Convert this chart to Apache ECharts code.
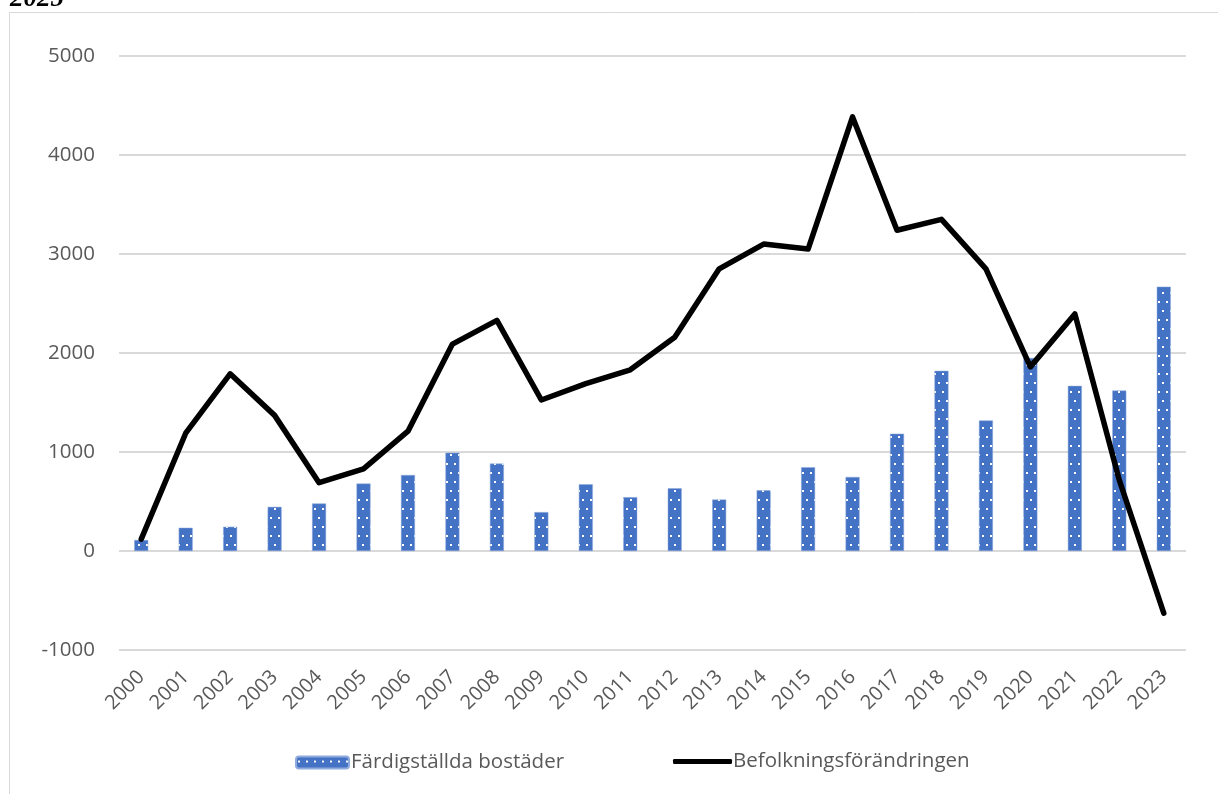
<!DOCTYPE html>
<html>
<head>
<meta charset="utf-8">
<script src="https://cdn.jsdelivr.net/npm/echarts@6/dist/echarts.min.js"></script>
<style>
html,body{margin:0;padding:0;background:#fff;}
#chart{width:1218px;height:794px;}
</style>
</head>
<body>
<div id="chart"></div>
<script>
const years = ['2000','2001','2002','2003','2004','2005','2006','2007','2008','2009','2010','2011','2012','2013','2014','2015','2016','2017','2018','2019','2020','2021','2022','2023'];
const completedHomes = [111,235,245,446,480,681,768,993,883,393,674,544,634,520,614,846,748,1185,1820,1319,1950,1668,1621,2670];
const populationChange = [120,1190,1790,1370,690,830,1210,2090,2330,1525,1690,1830,2160,2850,3100,3050,4385,3240,3350,2850,1860,2395,715,-627];
const yTicks = [-1000,0,1000,2000,3000,4000,5000];
const seriesNames = ['Färdigställda bostäder','Befolkningsförändringen'];
const titleText = '2025';

const FONT = '"Open Sans", sans-serif';
const TEXT = '#595959';

function makePattern(){
  const c = document.createElement('canvas');
  c.width = 8; c.height = 18;
  const g = c.getContext('2d');
  g.fillStyle = '#4472C4';
  g.fillRect(0,0,8,18);
  g.fillStyle = '#ffffff';
  g.fillRect(2,4,2,2);
  g.fillRect(6,13,2,2);
  return c;
}
const pat = makePattern();

const chart = echarts.init(document.getElementById('chart'), null, {renderer:'canvas'});
chart.setOption({
  animation:false,
  backgroundColor:'#fff',
  graphic:[
    {type:'rect', shape:{x:9.5,y:12.5,width:1300,height:900}, style:{fill:'none',stroke:'#d9d9d9',lineWidth:1}, silent:true, z:-1},
    {type:'text', left:10, top:-14, style:{text:titleText, font:'italic bold 27px "Liberation Serif", serif', fill:'#000'}}
  ],
  grid:{left:119,right:32,top:56,bottom:144,containLabel:false},
  legend:[
    {
      data:[seriesNames[0]],
      left:290, top:747,
      itemWidth:53, itemHeight:12,
      textStyle:{fontFamily:FONT,fontSize:20.5,color:TEXT,padding:[0,0,0,-3]}
    },
    {
      data:[{name:seriesNames[1], icon:'roundRect'}],
      left:668, top:746,
      itemWidth:59, itemHeight:5,
      itemStyle:{color:'#000'},
      textStyle:{fontFamily:FONT,fontSize:20.5,color:TEXT,padding:[0,0,0,-4]}
    }
  ],
  xAxis:{
    type:'category', data:years,
    axisTick:{show:false},
    axisLine:{show:false},
    axisLabel:{rotate:45,fontFamily:FONT,fontSize:20,color:TEXT,margin:24,interval:0}
  },
  yAxis:{
    type:'value', min:-1000, max:5000, interval:1000,
    axisLine:{show:false}, axisTick:{show:false},
    splitLine:{lineStyle:{color:'#d9d9d9',width:2}},
    axisLabel:{fontFamily:FONT,fontSize:20.5,color:TEXT,margin:24,
      formatter:function(v){return yTicks.indexOf(v)>=0? String(v):'';}}
  },
  series:[
    {name:seriesNames[0], type:'bar', data:completedHomes, barWidth:14,
     itemStyle:{color:{image:pat,repeat:'repeat'}, borderColor:'#8faadc', borderWidth:0.5}},
    {name:seriesNames[1], type:'line', data:populationChange, symbol:'none',
     lineStyle:{color:'#000',width:5.5,cap:'round',join:'round'}, itemStyle:{color:'#000'}}
  ]
});
</script>
</body>
</html>
